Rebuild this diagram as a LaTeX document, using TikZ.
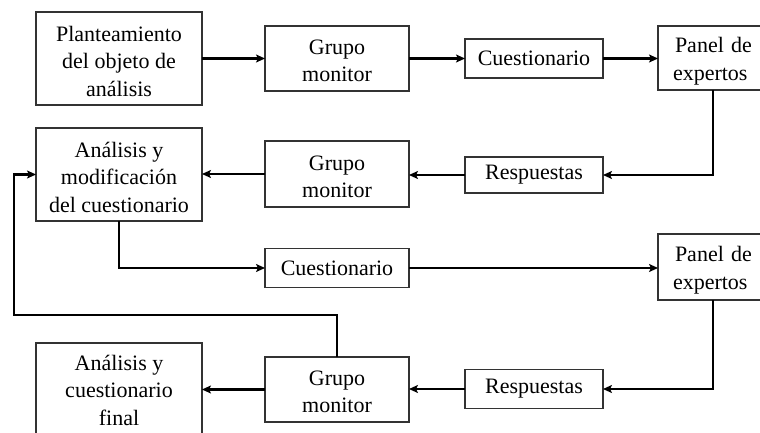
\documentclass[tikz,border=0pt]{standalone}
\usepackage{fontspec}
\setmainfont{Liberation Serif}
\usetikzlibrary{arrows.meta}
\begin{document}
\begin{tikzpicture}[x=1pt,y=-1pt,
  box/.style={draw=black!80, line width=1.9pt, fill=white, inner sep=0pt, outer sep=0pt,
    align=center, font=\fontsize{22}{27.5}\selectfont},
  label/.style={inner sep=0pt, align=center, font=\fontsize{22}{27.5}\selectfont},
  conn/.style={line width=2.8pt},
  arr/.style={conn, -{Stealth[length=9pt,width=8pt,inset=2pt]}}]
\useasboundingbox (0,0) rectangle (760,433);
\fill[white] (0,0) rectangle (760,433);
% first row
\node[box, minimum width=166pt, minimum height=93pt] (p1) at (119,58.5) {};
\node[label] at (119,61) {Planteamiento\\del objeto de\\análisis};
\node[box, minimum width=144pt, minimum height=65pt] (g1) at (337,58.5) {};
\node[label] at (337,61) {Grupo\\monitor};
\node[box, minimum width=138pt, minimum height=39pt] (c1) at (534,58.5) {Cuestionario};
\node[box, minimum width=110pt, minimum height=64pt] (pe1) at (713,58) {};
\node[label, text width=90pt, align=left] at (718,61) {\hspace*{2pt}Panel de\\expertos};
% second row
\node[box, minimum width=138pt, minimum height=36pt] (r1) at (534,175) {Respuestas};
\node[box, minimum width=144pt, minimum height=66pt] (g2) at (337,174) {};
\node[label] at (337,177) {Grupo\\monitor};
\node[box, minimum width=166pt, minimum height=93pt] (a1) at (119,174.5) {};
\node[label] at (119,177) {Análisis y\\modificación\\del cuestionario};
% third row
\node[box, minimum width=144pt, minimum height=39pt] (c2) at (337,268) {Cuestionario};
\node[box, minimum width=110pt, minimum height=66pt] (pe2) at (713,267) {};
\node[label, text width=90pt, align=left] at (718,270) {\hspace*{2pt}Panel de\\expertos};
% fourth row
\node[box, minimum width=138pt, minimum height=39pt] (r2) at (534,389) {Respuestas};
\node[box, minimum width=144pt, minimum height=65pt] (g3) at (337,389.5) {};
\node[label] at (337,392) {Grupo\\monitor};
\node[box, minimum width=166pt, minimum height=100pt] (af) at (119,393) {};
\node[label] at (119,390) {Análisis y\\cuestionario\\final};
\coordinate (k) at (14,315);
% connectors
\draw[arr] (p1.east |- g1.west) -- (g1.west);
\draw[arr] (g1.east) -- (c1.west);
\draw[arr] (c1.east) -- (c1.east -| pe1.west);
\draw[arr] (pe1.south) |- (r1.east);
\draw[arr] (r1.west) -- (r1.west -| g2.east);
\draw[arr] (g2.west) -- (g2.west -| a1.east);
\draw[arr] (a1.south) |- (c2.west);
\draw[arr] (c2.east) -- (c2.east -| pe2.west);
\draw[arr] (pe2.south) |- (r2.east);
\draw[arr] (r2.west) -- (r2.west -| g3.east);
\draw[arr] (g3.west) -- (g3.west -| af.east);
\draw[arr] (g3.north) |- (k) |- (a1.west);
\end{tikzpicture}
\end{document}
